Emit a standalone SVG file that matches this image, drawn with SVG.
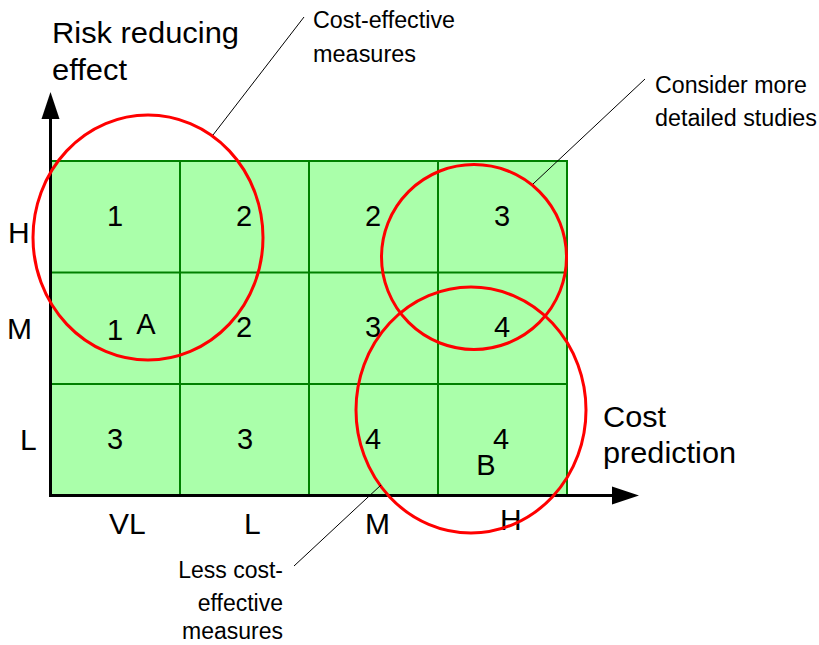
<svg xmlns="http://www.w3.org/2000/svg" width="819" height="645" viewBox="0 0 819 645">
  <style>
    text { font-family: "Liberation Sans", Arial, sans-serif; fill: #000; }
    .big { font-size: 30px; }
    .num { font-size: 29px; text-anchor: middle; }
    .note { font-size: 23px; }
    .cell { fill: #aaffaa; stroke: none; }
    .grid { stroke: #008000; stroke-width: 2; fill: none; }
    .ring { fill: none; stroke: #ff0000; stroke-width: 3; }
    .axis { stroke: #000; stroke-width: 3; fill: none; }
    .leader { stroke: #000; stroke-width: 1; fill: none; }
  </style>

  <!-- risk matrix: 4 cost columns x 3 effect rows -->
  <g id="matrix">
    <rect class="cell" x="50" y="161" width="517" height="334"/>
    <path class="grid" d="M50 161 H567 V495 M180 161 V495 M309 161 V495 M438 161 V495 M50 272.5 H567 M50 384 H567"/>
  </g>

  <!-- cell scores -->
  <g id="scores">
    <text class="num" x="115" y="226">1</text>
    <text class="num" x="244" y="226">2</text>
    <text class="num" x="373" y="226">2</text>
    <text class="num" x="502" y="226">3</text>

    <text class="num" x="115" y="340">1</text>
    <text class="num" x="146" y="334">A</text>
    <text class="num" x="244" y="337">2</text>
    <text class="num" x="373" y="337">3</text>
    <text class="num" x="502" y="337">4</text>

    <text class="num" x="115" y="449">3</text>
    <text class="num" x="245" y="449">3</text>
    <text class="num" x="373" y="449">4</text>
    <text class="num" x="501" y="449">4</text>
    <text class="num" x="486" y="475">B</text>
  </g>

  <!-- axes -->
  <g id="axes">
    <path class="axis" d="M50.5 497 V118 M49 495.5 H613"/>
    <polygon points="50.5,92 41.5,119 59.5,119" fill="#000"/>
    <polygon points="639,495.5 612,486.5 612,504.5" fill="#000"/>
    <text class="big" x="52" y="43" textLength="187" lengthAdjust="spacingAndGlyphs">Risk reducing</text>
    <text class="big" x="52" y="80" textLength="75" lengthAdjust="spacingAndGlyphs">effect</text>
    <text class="big" x="603" y="427" textLength="63" lengthAdjust="spacingAndGlyphs">Cost</text>
    <text class="big" x="603" y="463" textLength="133" lengthAdjust="spacingAndGlyphs">prediction</text>

    <text class="big" x="8" y="243">H</text>
    <text class="big" x="7" y="339">M</text>
    <text class="big" x="20" y="450">L</text>

    <text class="big" x="109" y="534">VL</text>
    <text class="big" x="244" y="534">L</text>
    <text class="big" x="365" y="534">M</text>
    <text class="big" x="500" y="530">H</text>
  </g>

  <!-- highlighted regions -->
  <g id="region-cost-effective">
    <ellipse class="ring" cx="148" cy="237.5" rx="115" ry="122.5"/>
  </g>
  <g id="region-detailed-studies">
    <circle class="ring" cx="474" cy="257" r="92.5"/>
  </g>
  <g id="region-less-cost-effective">
    <ellipse class="ring" cx="471" cy="410" rx="115" ry="123"/>
  </g>

  <!-- leader lines -->
  <g id="connectors">
    <line class="leader" x1="213" y1="135" x2="304" y2="17"/>
    <line class="leader" x1="533" y1="184" x2="645" y2="79"/>
    <line class="leader" x1="381" y1="485" x2="294" y2="566"/>
  </g>

  <!-- callout labels -->
  <g id="label-cost-effective">
    <text class="note" x="313" y="28" textLength="142" lengthAdjust="spacingAndGlyphs">Cost-effective</text>
    <text class="note" x="313" y="62" textLength="103" lengthAdjust="spacingAndGlyphs">measures</text>
  </g>
  <g id="label-detailed-studies">
    <text class="note" x="655" y="93" textLength="152" lengthAdjust="spacingAndGlyphs">Consider more</text>
    <text class="note" x="655" y="126" textLength="162" lengthAdjust="spacingAndGlyphs">detailed studies</text>
  </g>
  <g id="label-less-cost-effective" style="text-anchor:end">
    <text class="note" x="283" y="578">Less cost-</text>
    <text class="note" x="283" y="611">effective</text>
    <text class="note" x="283" y="639">measures</text>
  </g>
</svg>
